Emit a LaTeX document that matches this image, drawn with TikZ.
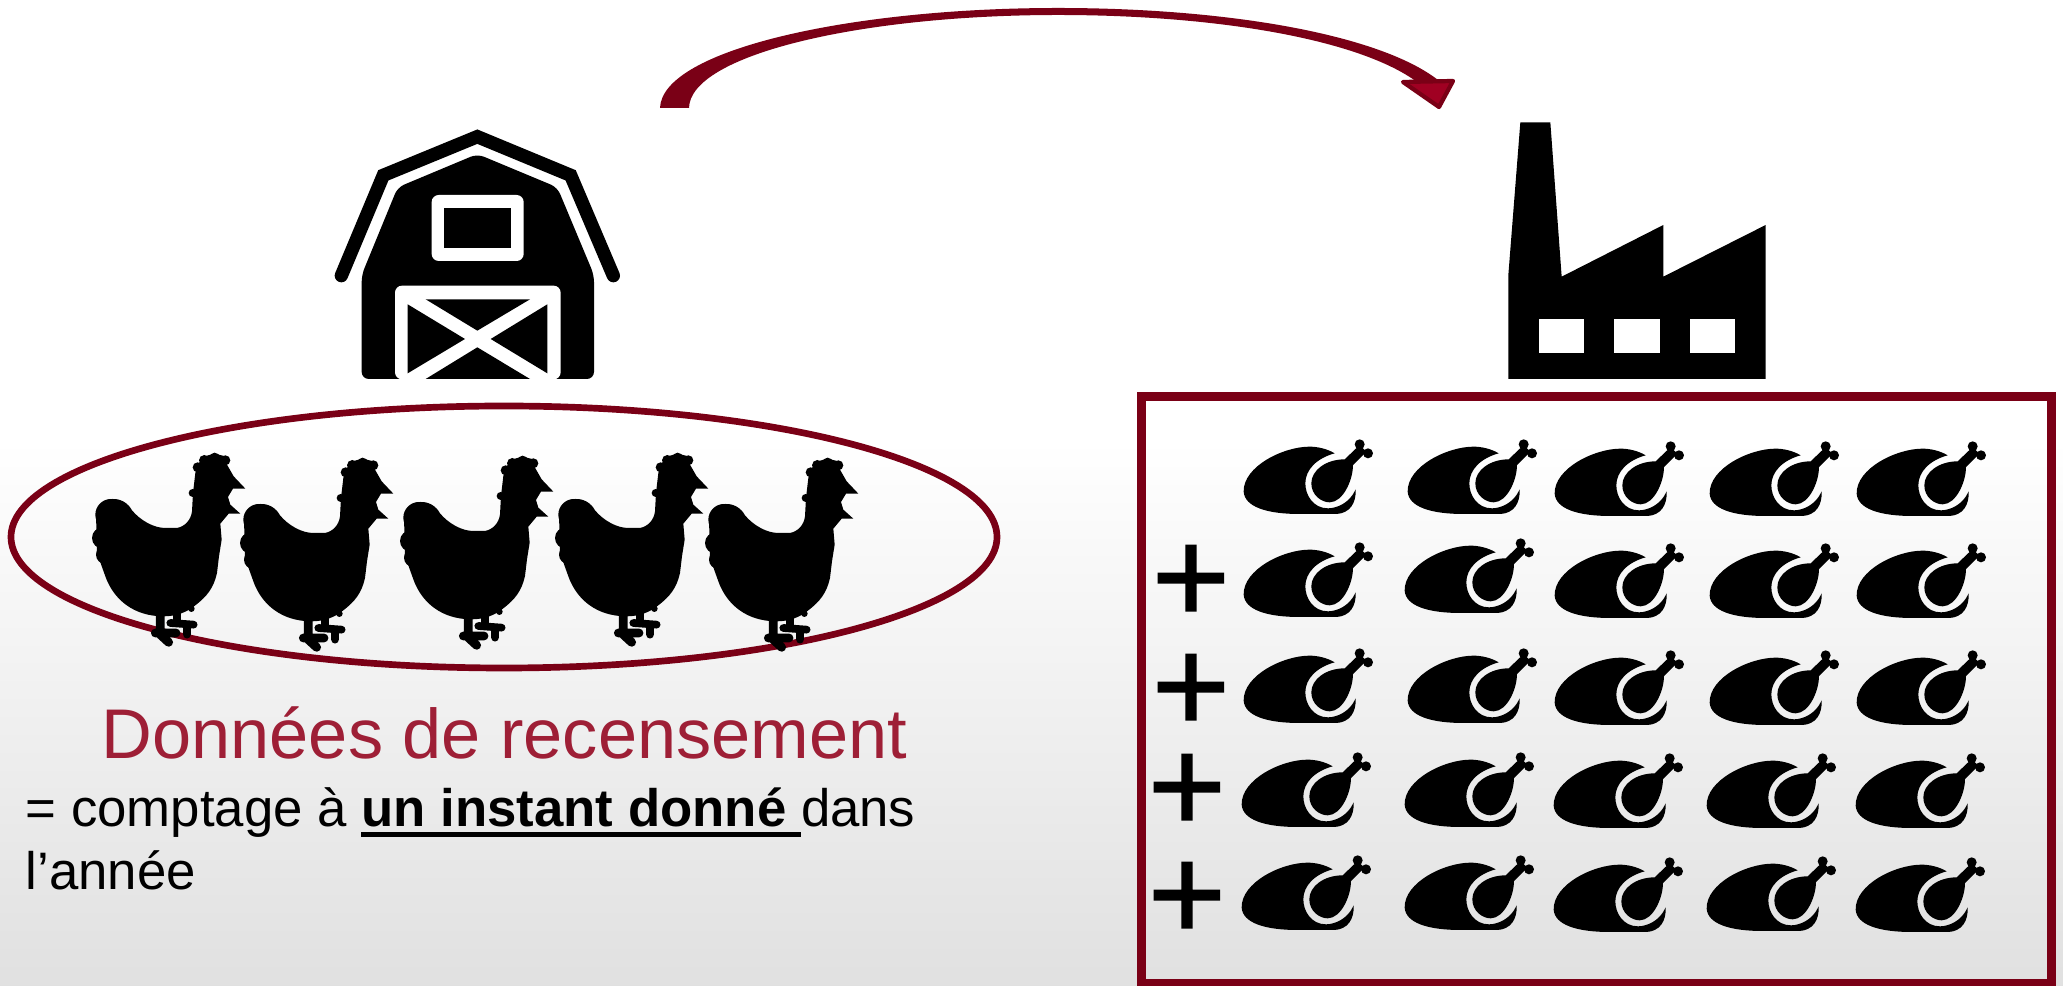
\documentclass[tikz,border=0pt]{standalone}
\usepackage{fontspec}
\setmainfont{Liberation Sans}
\newfontfamily\plusfont[FakeBold=1.2]{Liberation Sans}
\definecolor{burgundy}{HTML}{7A0016}
\definecolor{headred}{HTML}{A00022}
\definecolor{titlered}{HTML}{9E1F36}
\newcommand{\ulinetxt}[1]{\setbox0\hbox{#1}\rlap{\rule[-2.9pt]{\wd0}{1.4pt}}\box0}
\tikzset{
  pics/hen/.style={code={
    \begin{scope}[scale=1/3,shift={(-35,-40)}]
      \fill (345,100) -- (352,75) -- (372,50) -- (403,42) -- (435,50) -- (440,75) -- (460,110)
        -- (495,147) -- (458,147) -- (443,172)
        -- (450,195) -- (480,222) -- (445,222) -- (420,252) -- (424,300) -- (416,350)
        -- (410,400) .. controls (400,445) and (380,470) .. (345,497)
        .. controls (320,517) and (290,530) .. (250,530)
        .. controls (160,530) and (100,480) .. (75,410)
        -- (50,340) -- (47,222) .. controls (60,165) and (130,165) .. (155,212)
        .. controls (180,242) and (220,265) .. (255,265) -- (290,265)
        .. controls (315,260) and (332,240) .. (335,215) -- (338,160) -- cycle;
      \fill (352,83) circle (15) (372,62) circle (16) (403,55) circle (16)
        (435,62) circle (15) (337,160) circle (12) (92,225) circle (47)
        (67,295) circle (32) (75,345) circle (28) (333,507) circle (10);
      \draw[line width=2.5pt,line cap=round] (240,525) -- (240,580) (225,580) -- (287,580)
        (240,585) -- (265,608);
      \draw[line width=2.2pt,line cap=round] (290,520) -- (290,550) (270,550) -- (340,555)
        (320,555) -- (320,585);
    \end{scope}
  }},
  pics/turkey/.style={code={
    \begin{scope}[scale=1/3,shift={(-310,-60)}]
      \fill (585,100) .. controls (560,85) and (530,80) .. (510,80)
        .. controls (430,80) and (310,140) .. (312,215)
        .. controls (315,260) and (380,282) .. (480,282) -- (590,282)
        .. controls (630,280) and (650,250) .. (648,208)
        .. controls (630,250) and (590,265) .. (565,265)
        .. controls (520,265) and (497,225) .. (497,190)
        .. controls (497,150) and (530,115) .. (585,100) -- cycle;
      \fill (615,118) .. controls (560,118) and (515,150) .. (515,190)
        .. controls (515,225) and (545,247) .. (570,247)
        .. controls (610,247) and (640,180) .. (640,135)
        -- (680,95) -- (660,75) -- cycle;
      \fill (660,73) circle (15) (685,100) circle (15);
    \end{scope}
  }},
  plusnode/.style={inner sep=0pt,font=\plusfont\fontsize{38}{38}\selectfont}
}
\begin{document}
\begin{tikzpicture}[x=0.01cm,y=-0.01cm]
  \useasboundingbox (0,0) rectangle (2063,986);
  \fill[white] (0,0) rectangle (2063,440);
  \shade[top color=white,bottom color=black!12] (0,440) rectangle (2063,986);

  % arrow
  \fill[burgundy] (660,108) .. controls (662,50) and (850,8) .. (1058,8)
    .. controls (1230,8) and (1380,35) .. (1438,80) -- (1417,82)
    .. controls (1360,40) and (1220,15) .. (1058,15)
    .. controls (860,15) and (690,55) .. (689,108) -- cycle;
  \draw[burgundy,fill=headred,line width=1.2pt,line join=round]
    (1403,82) -- (1453,81) -- (1439,107) -- cycle;

  % barn
  \begin{scope}[shift={(320,120)},scale=1/3]
    \draw[line width=3.8pt,line cap=round,miter limit=10] (64,467) -- (190,166) -- (472,50) -- (752,166) -- (880,467);
    \fill[rounded corners=2pt] (472,102) -- (712,202) -- (822,465) -- (822,777) -- (125,777) -- (125,465) -- (233,202) -- cycle;
    \fill[white,rounded corners=2pt] (335,225) rectangle (611,423);
    \fill (373,265) rectangle (572,383);
    \fill[white,rounded corners=2pt] (225,497) -- (722,497) -- (722,778) -- (225,778) -- cycle;
    \fill (317,538) -- (630,538) -- (472,632) -- cycle;
    \fill (263,553) -- (435,657) -- (263,760) -- cycle;
    \fill (682,553) -- (512,657) -- (682,760) -- cycle;
    \fill (472,682) -- (630,777) -- (317,777) -- cycle;
  \end{scope}

  % factory
  \begin{scope}[shift={(1490,110)},scale=1/3]
    \fill (91,37) -- (181,37) -- (215,500) -- (520,345) -- (520,500) -- (827,345) -- (827,807) -- (55,807) -- (55,495) -- cycle;
    \fill[white] (148,626) rectangle (283,728);
    \fill[white] (373,626) rectangle (510,728);
    \fill[white] (600,626) rectangle (736,728);
  \end{scope}

  % flock
  \draw[burgundy,line width=1.9pt] (504,537) ellipse (493 and 131);
  \pic at (92,453) {hen};
  \pic at (240,458) {hen};
  \pic at (400,456) {hen};
  \pic at (555,453) {hen};
  \pic at (705,458) {hen};

  % carcasses
  \draw[burgundy,line width=2.56pt] (1141.5,396.5) rectangle (2051.5,984);
  \pic at (1243,440) {turkey};
  \pic at (1407,440) {turkey};
  \pic at (1554,442) {turkey};
  \pic at (1709,442) {turkey};
  \pic at (1856,442) {turkey};
  \pic at (1243,543) {turkey};
  \pic at (1404,539) {turkey};
  \pic at (1554,544) {turkey};
  \pic at (1709,544) {turkey};
  \pic at (1856,544) {turkey};
  \pic at (1243,649) {turkey};
  \pic at (1407,649) {turkey};
  \pic at (1554,651) {turkey};
  \pic at (1709,651) {turkey};
  \pic at (1856,651) {turkey};
  \pic at (1241,753) {turkey};
  \pic at (1404,753) {turkey};
  \pic at (1553,754) {turkey};
  \pic at (1706,754) {turkey};
  \pic at (1855,754) {turkey};
  \pic at (1241,856) {turkey};
  \pic at (1404,856) {turkey};
  \pic at (1553,858) {turkey};
  \pic at (1706,857) {turkey};
  \pic at (1855,858) {turkey};

  \node[plusnode] (plusb) at (1191,584) {+};
  \node[plusnode] (plusc) at (1191,693) {+};
  \node[plusnode] (plusd) at (1187,793) {+};
  \node[plusnode] (pluse) at (1187,901) {+};

  \node[anchor=base west,inner sep=0pt,text=titlered,font=\fontsize{20}{24}\selectfont] (title) at (101,759) {Données de recensement};
  \node[anchor=base west,inner sep=0pt,font=\fontsize{15}{18}\selectfont] (comptage) at (25,827)
    {= comptage à \ulinetxt{\textbf{un instant donné }}dans};
  \node[anchor=base west,inner sep=0pt,font=\fontsize{15}{18}\selectfont] (annee) at (25,890) {l’année};
\end{tikzpicture}
\end{document}
